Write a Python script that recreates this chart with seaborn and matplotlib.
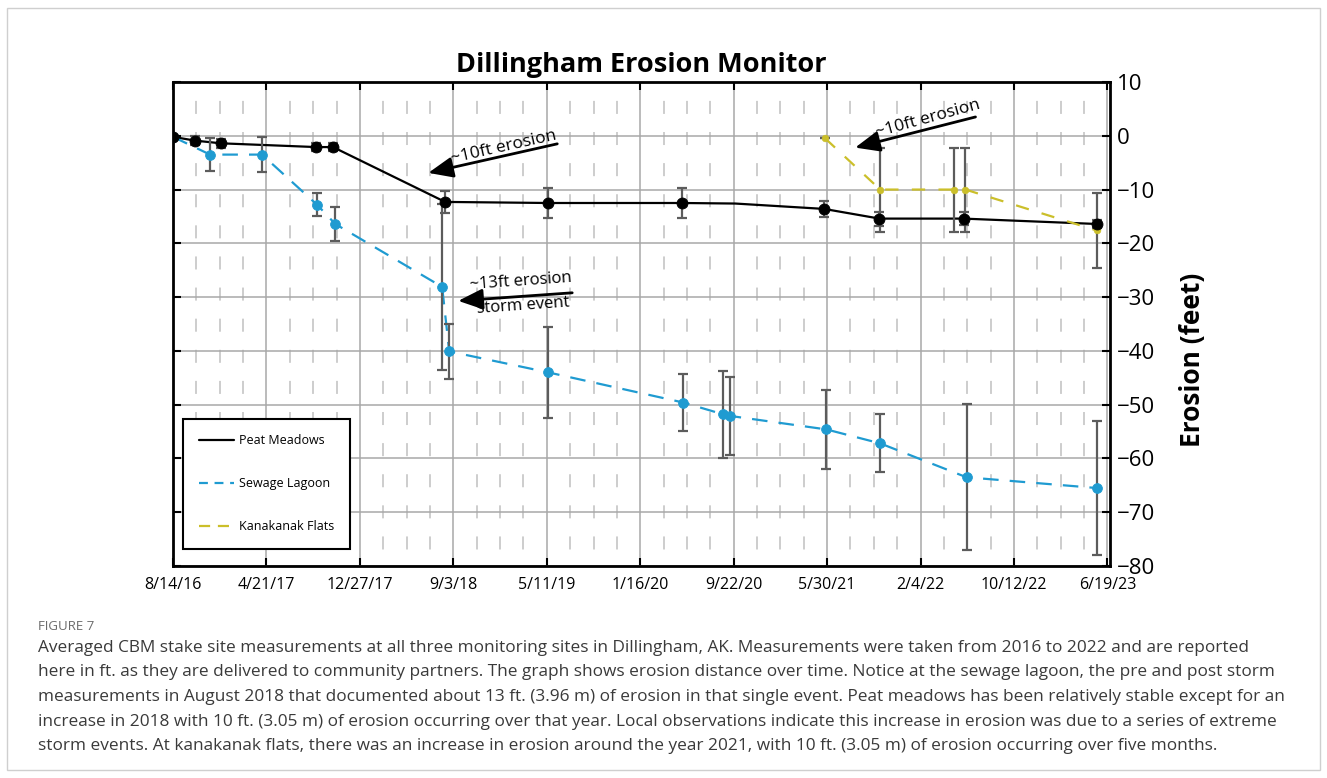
import numpy as np
import pandas as pd
import matplotlib
matplotlib.use('Agg')
import matplotlib.pyplot as plt
import matplotlib.dates as mdates
from matplotlib.ticker import FixedLocator
from matplotlib.lines import Line2D
from matplotlib.patches import Rectangle
import seaborn as sns

sns.set_style('white')
plt.rcParams['font.family'] = ['Open Sans', 'DejaVu Sans']
plt.rcParams['text.color'] = 'black'
plt.rcParams['axes.labelcolor'] = 'black'

# Peat Meadows (vertex on 2020-09-26 has no measurement marker)
peat_dates = ['2016-08-14', '2016-10-12', '2016-12-20', '2017-09-01', '2017-10-16',
              '2018-08-12', '2019-05-15', '2020-05-07', '2020-09-26', '2021-05-22',
              '2021-10-17', '2022-05-30', '2023-05-21']
peat_vals = [-0.2, -0.9, -1.4, -2.1, -2.1, -12.3, -12.5, -12.5, -12.6, -13.6, -15.4, -15.4, -16.4]
peat_err = [0, 0.85, 0.85, 0.8, 0.8, 2.1, 2.7, 2.7, np.nan, 1.5, 1.3, 1.2, 0.75]

# Sewage Lagoon
sewage_dates = ['2016-08-14', '2016-11-21', '2017-04-09', '2017-09-03', '2017-10-22',
                '2018-08-04', '2018-08-23', '2019-05-15', '2020-05-10', '2020-08-25',
                '2020-09-13', '2021-05-28', '2021-10-19', '2022-06-07', '2023-05-21']
sewage_vals = [-0.2, -3.5, -3.5, -12.8, -16.4, -28.1, -40.1, -44.0, -49.6, -51.8,
               -52.1, -54.6, -57.2, -63.5, -65.5]
sewage_err = [0, 3.1, 3.2, 2.2, 3.2, 15.5, 5.1, 8.5, 5.3, 8.1, 7.3, 7.4, 5.4, 13.6, 12.5]

# Kanakanak Flats
kan_dates = ['2021-05-25', '2021-10-19', '2022-05-05', '2022-06-04', '2023-05-21']
kan_vals = [-0.5, -10.0, -10.0, -10.0, -17.6]
kan_err = [0, 7.8, 7.8, 7.8, 7.0]

tick_labels = ['8/14/16', '4/21/17', '12/27/17', '9/3/18', '5/11/19', '1/16/20',
               '9/22/20', '5/30/21', '2/4/22', '10/12/22', '6/19/23']
y_ticks = [10, 0, -10, -20, -30, -40, -50, -60, -70, -80]

caption = [
    'Averaged CBM stake site measurements at all three monitoring sites in Dillingham, AK. Measurements were taken from 2016 to 2022 and are reported',
    'here in ft. as they are delivered to community partners. The graph shows erosion distance over time. Notice at the sewage lagoon, the pre and post storm',
    'measurements in August 2018 that documented about 13 ft. (3.96 m) of erosion in that single event. Peat meadows has been relatively stable except for an',
    'increase in 2018 with 10 ft. (3.05 m) of erosion occurring over that year. Local observations indicate this increase in erosion was due to a series of extreme',
    'storm events. At kanakanak flats, there was an increase in erosion around the year 2021, with 10 ft. (3.05 m) of erosion occurring over five months.',
]

BLUE = '#1f9bd1'
YELLOW = '#cbbf2a'
ERR = '#5c5c5c'

peat = pd.DataFrame({'date': pd.to_datetime(peat_dates), 'erosion': peat_vals, 'err': peat_err})
sewage = pd.DataFrame({'date': pd.to_datetime(sewage_dates), 'erosion': sewage_vals, 'err': sewage_err})
kan = pd.DataFrame({'date': pd.to_datetime(kan_dates), 'erosion': kan_vals, 'err': kan_err})

fig = plt.figure(figsize=(13.27, 7.78), dpi=100)
fig.patches.append(Rectangle((7 / 1327, 8 / 778), 1313 / 1327, 762 / 778, transform=fig.transFigure,
                             fill=False, edgecolor='#cfcfcf', linewidth=1.0))
ax = fig.add_axes([0.1304, 0.2725, 0.7061, 0.6221])

# lines
sns.lineplot(data=peat, x='date', y='erosion', color='black', lw=1.6, ax=ax, zorder=2)
sns.lineplot(data=sewage, x='date', y='erosion', color=BLUE, lw=1.6, linestyle=(0, (7, 5)), ax=ax, zorder=2)
sns.lineplot(data=kan, x='date', y='erosion', color=YELLOW, lw=1.6, linestyle=(0, (6, 6)), ax=ax, zorder=2)

# error bars
for d in (peat.dropna(), sewage, kan):
    ax.errorbar(d['date'], d['erosion'], yerr=d['err'], fmt='none', ecolor=ERR,
                elinewidth=1.6, capsize=3.5, capthick=1.6, zorder=3)

# markers
sns.scatterplot(data=sewage, x='date', y='erosion', color=BLUE, edgecolor=BLUE, s=50, ax=ax, zorder=4)
sns.scatterplot(data=kan, x='date', y='erosion', color=YELLOW, edgecolor=YELLOW, s=24, ax=ax, zorder=4)
sns.scatterplot(data=peat.dropna(), x='date', y='erosion', color='black', edgecolor='black', s=62, ax=ax, zorder=5)

# axes
start = mdates.date2num(pd.Timestamp('2016-08-14'))
ax.set_xlim(start, start + 2507)
ax.set_ylim(-80, 10)
ax.xaxis.set_major_locator(FixedLocator(start + 250 * np.arange(11)))
ax.xaxis.set_minor_locator(FixedLocator(start + 62.5 * np.arange(41)))
ax.set_xticklabels(tick_labels)
ax.set_yticks(y_ticks)
ax.tick_params(axis='both', which='major', direction='in', length=6, width=1.5,
               top=True, bottom=True, left=True, right=True,
               labelleft=False, labelright=True, colors='black')
ax.tick_params(axis='x', which='major', labelsize=11.5, pad=8)
ax.tick_params(axis='y', which='major', labelsize=16, pad=5)
ax.tick_params(which='minor', length=0)
ax.set_axisbelow(True)
ax.grid(which='major', color='#a8a8a8', linewidth=1.1)
ax.grid(which='minor', axis='x', color='#cdcdcd', linewidth=1.4, linestyle=(7.5, (6.7, 9.3)))
for s in ax.spines.values():
    s.set_linewidth(2)
    s.set_color('black')

ax.set_xlabel('')
ax.yaxis.set_label_position('right')
ax.set_ylabel('Erosion (feet)', fontsize=19, fontweight='bold')
ax.yaxis.set_label_coords(1.074, 0.426)
ax.set_title('Dillingham Erosion Monitor', fontsize=19.5, fontweight='bold', pad=7, color='black')

# annotations
arrow = dict(arrowstyle='-|>,head_length=1.0,head_width=0.42', lw=2, color='black',
             mutation_scale=15, shrinkA=0, shrinkB=0)
d = mdates.date2num
ax.annotate('', xy=(d(pd.Timestamp('2018-06-28')), -6.9), xytext=(d(pd.Timestamp('2019-06-08')), -1.5), arrowprops=arrow)
ax.text(d(pd.Timestamp('2019-01-16')), -2.2, '~10ft erosion', fontsize=12.5, rotation=12.7,
        rotation_mode='anchor', ha='center', va='center')
ax.annotate('', xy=(d(pd.Timestamp('2021-08-13')), -2.2), xytext=(d(pd.Timestamp('2022-07-01')), 3.5), arrowprops=arrow)
ax.text(d(pd.Timestamp('2022-02-24')), 3.1, '~10ft erosion', fontsize=12.5, rotation=15.4,
        rotation_mode='anchor', ha='center', va='center')
ax.annotate('', xy=(d(pd.Timestamp('2018-09-16')), -30.7), xytext=(d(pd.Timestamp('2019-07-18')), -29.2), arrowprops=arrow)
ax.text(d(pd.Timestamp('2019-03-01')), -27.0, '~13ft erosion', fontsize=12, rotation=4,
        rotation_mode='anchor', ha='center', va='center')
ax.text(d(pd.Timestamp('2019-03-08')), -31.7, 'storm event', fontsize=12, rotation=4,
        rotation_mode='anchor', ha='center', va='center')

# legend
handles = [Line2D([], [], color='black', lw=1.6),
           Line2D([], [], color=BLUE, lw=1.6, linestyle=(0, (4, 3))),
           Line2D([], [], color=YELLOW, lw=1.6, linestyle=(0, (5, 3.5)))]
leg = ax.legend(handles, ['Peat Meadows', 'Sewage Lagoon', 'Kanakanak Flats'],
                loc='lower left', bbox_to_anchor=(0.0107, 0.035), borderaxespad=0,
                fontsize=9, handlelength=2.8, handletextpad=0.4, labelspacing=2.4,
                borderpad=1.25, frameon=True, fancybox=False, framealpha=1)
leg.get_frame().set_edgecolor('black')
leg.get_frame().set_linewidth(1.5)

# caption
fig.text(38 / 1327, 1 - 627 / 778, 'FIGURE 7', fontsize=9.5, color='#6b6b6b', va='center', ha='left')
for i, line in enumerate(caption):
    fig.text(38 / 1327, 1 - (648 + 24.5 * i) / 778, line, fontsize=12.4, color='#3a3a3a', va='center', ha='left')

fig.savefig('out.png', dpi=100)
